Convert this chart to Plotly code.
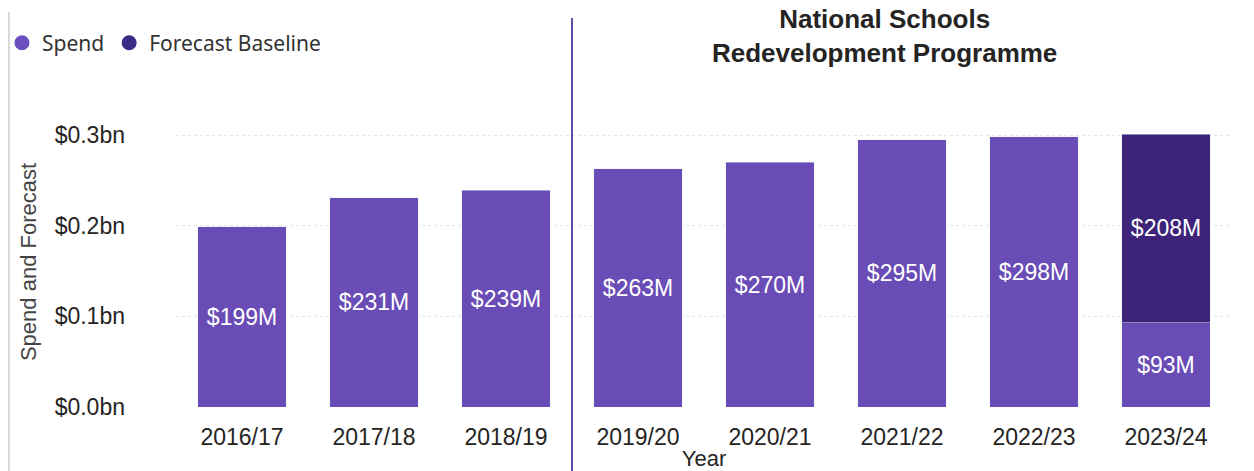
import plotly.graph_objects as go

years = ["2016/17", "2017/18", "2018/19", "2019/20", "2020/21", "2021/22", "2022/23", "2023/24"]
spend_bn = [0.199, 0.231, 0.239, 0.263, 0.270, 0.295, 0.298, 0.093]
forecast_bn = [None, None, None, None, None, None, None, 0.208]
y_tickvals = [0.0, 0.1, 0.2, 0.3]
y_ticktext = ["$0.0bn", "$0.1bn", "$0.2bn", "$0.3bn"]

SPEND_C = "#6a4cb6"
FORE_C = "#3d2379"
TXT = "#252423"


def lab(vals):
    return ["" if v is None else f"${v*1000:.0f}M" for v in vals]


fig = go.Figure()
fig.add_trace(go.Bar(x=years, y=spend_bn, marker_color=SPEND_C, text=lab(spend_bn),
                     textposition="inside", insidetextanchor="middle", textangle=0,
                     constraintext="none",
                     textfont=dict(color="white", size=23, family="Liberation Sans, Arial"),
                     showlegend=False, name="Spend"))
fig.add_trace(go.Bar(x=years, y=forecast_bn, marker_color=FORE_C, text=lab(forecast_bn),
                     textposition="inside", insidetextanchor="middle", textangle=0,
                     constraintext="none",
                     textfont=dict(color="white", size=23, family="Liberation Sans, Arial"),
                     showlegend=False, name="Forecast Baseline"))
# legend entries with circular markers
fig.add_trace(go.Scatter(x=[None], y=[None], mode="markers", name="Spend",
                         marker=dict(symbol="circle", size=15, color="#6b50c0")))
fig.add_trace(go.Scatter(x=[None], y=[None], mode="markers", name="Forecast Baseline",
                         marker=dict(symbol="circle", size=15, color="#3b2a86")))

fig.update_layout(
    width=1254, height=471,
    margin=dict(l=168, r=30, t=109, b=72, autoexpand=False),
    paper_bgcolor="white", plot_bgcolor="white",
    barmode="stack", bargap=0.333,
    font=dict(family="Liberation Sans, Arial", color=TXT),
    legend=dict(orientation="h", x=-0.1648, xanchor="left", y=1.255, yanchor="middle",
                font=dict(size=21, color="#333333", family="Noto Sans"),
                itemwidth=30, traceorder="normal", bgcolor="rgba(0,0,0,0)"),
    xaxis=dict(type="category", showline=False, showgrid=False, ticks="", automargin=False,
               tickfont=dict(size=23, color=TXT), ticklabelstandoff=14,
               title=dict(text="Year", font=dict(size=22, color=TXT), standoff=1)),
    yaxis=dict(range=[0, 0.32], tickvals=y_tickvals, ticktext=y_ticktext, automargin=False,
               showline=False, zeroline=False, showgrid=True,
               gridcolor="#e6e6e6", griddash="dot", gridwidth=1,
               tickfont=dict(size=23, color=TXT), ticklabelstandoff=50,
               title=dict(text="Spend and Forecast", font=dict(size=22, color="#444444"), standoff=11)),
)

fig.add_annotation(text="<b>National Schools</b><br><b>Redevelopment Programme</b>",
                   xref="paper", yref="paper", x=0.671, y=1.279, xanchor="center", yanchor="middle",
                   showarrow=False, borderpad=0,
                   font=dict(size=26, color=TXT, family="Liberation Sans, Arial"))

# separator between historic and recent years
fig.add_shape(type="line", xref="x", yref="paper", x0=2.5, x1=2.5, y0=-0.26, y1=1.341,
              line=dict(color="#5b50a6", width=2))
# card left border
fig.add_shape(type="line", xref="paper", yref="paper", x0=-0.1582, x1=-0.1582, y0=-0.26, y1=1.362,
              line=dict(color="#cfcfcf", width=1.5))

fig.write_html("out.html")
